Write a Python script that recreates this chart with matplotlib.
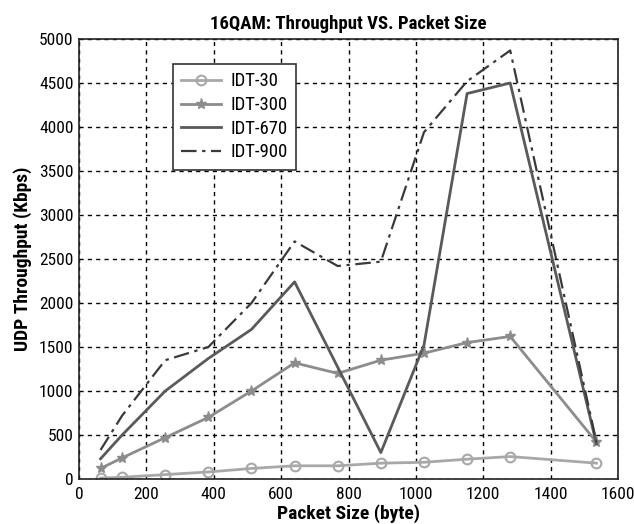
import matplotlib
matplotlib.use("Agg")
import matplotlib.pyplot as plt
from matplotlib import font_manager

packet_size = [64, 128, 256, 384, 512, 640, 768, 896, 1024, 1152, 1280, 1536]
idt_30 = [10, 20, 50, 80, 120, 150, 150, 180, 190, 225, 255, 180]
idt_300 = [120, 240, 470, 700, 1000, 1320, 1200, 1350, 1430, 1550, 1620, 420]
idt_670 = [230, 500, 1000, 1370, 1700, 2240, 1270, 300, 1520, 4380, 4500, 400]
idt_900 = [330, 720, 1350, 1500, 2000, 2700, 2420, 2470, 3940, 4520, 4870, 420]

x_ticks = [0, 200, 400, 600, 800, 1000, 1200, 1400, 1600]
y_ticks = [0, 500, 1000, 1500, 2000, 2500, 3000, 3500, 4000, 4500, 5000]

# prefer a condensed sans face when one is installed
names = {f.name for f in font_manager.fontManager.ttflist}
family = "Liberation Sans"
for cand in ["Roboto Condensed", "Liberation Sans Narrow", "Open Sans Condensed"]:
    if cand in names:
        family = cand
        break
narrow = family != "Liberation Sans"
plt.rcParams["font.family"] = [family, "DejaVu Sans"]

tick_size = 12.5 if narrow else 10.5
fig = plt.figure(figsize=(6.34, 5.24), dpi=100)
ax = fig.add_axes([79 / 634, 1 - 479 / 524, (618 - 79) / 634, (479 - 39) / 524])

ax.plot(packet_size, idt_30, color="#a8a8a8", lw=2.0, marker="o", ms=7,
        mfc="none", mec="#a8a8a8", mew=1.5, label="IDT-30")
ax.plot(packet_size, idt_300, color="#8c8c8c", lw=2.0, marker="*", ms=8,
        mfc="#8c8c8c", mec="#8c8c8c", label="IDT-300")
ax.plot(packet_size, idt_670, color="#5a5a5a", lw=2.0, label="IDT-670")
ax.plot(packet_size, idt_900, color="#3a3a3a", lw=1.6, ls=(0, (7, 2.5, 1.5, 2.5)),
        label="IDT-900")

ax.set_xlim(0, 1600)
ax.set_ylim(0, 5000)
ax.set_xticks(x_ticks)
ax.set_yticks(y_ticks)
ax.tick_params(direction="in", length=0, labelsize=tick_size)
ax.tick_params(axis="x", pad=6)
ax.tick_params(axis="y", pad=4)
ax.grid(True, color="black", ls=(0, (3, 3)), lw=1.0)
for s in ax.spines.values():
    s.set_linewidth(1.2)
    s.set_color("#222222")

ax.set_title("16QAM: Throughput VS. Packet Size", fontsize=13.5 if narrow else 11,
             fontweight="bold", pad=7)
ax.set_xlabel("Packet Size (byte)", fontsize=14 if narrow else 12, fontweight="bold",
              labelpad=1)
ax.set_ylabel("UDP Throughput (Kbps)", fontsize=14 if narrow else 12, fontweight="bold",
              labelpad=5)

leg = ax.legend(loc="upper left", bbox_to_anchor=((173 - 79) / 539, 1 - (64 - 39) / 440),
                fontsize=13.5 if narrow else 11.5, frameon=True, fancybox=False,
                borderpad=0.45, handlelength=2.1, handletextpad=0.5, labelspacing=0.3,
                borderaxespad=0)
leg.get_frame().set_edgecolor("#333333")
leg.get_frame().set_linewidth(1.2)
leg.get_frame().set_alpha(1)

fig.savefig("out.png", dpi=100)
